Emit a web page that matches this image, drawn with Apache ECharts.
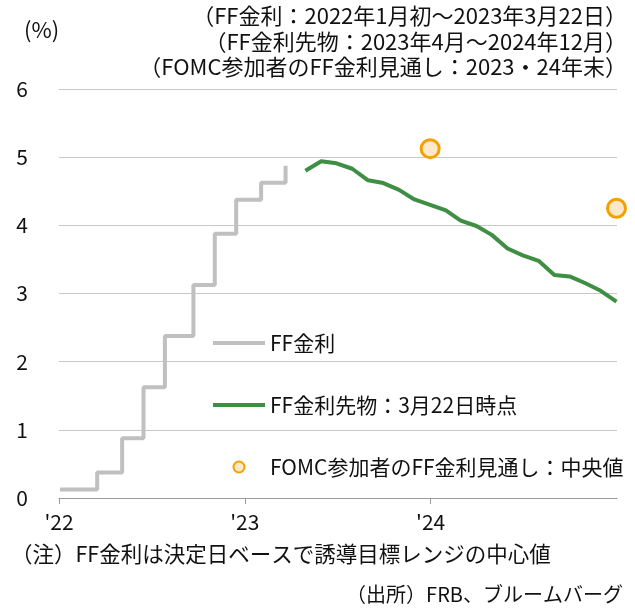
<!DOCTYPE html>
<html>
<head>
<meta charset="utf-8">
<script src="https://cdn.jsdelivr.net/npm/echarts@6/dist/echarts.min.js"></script>
<style>
  html, body { margin: 0; padding: 0; background: #fff; }
  #main { width: 635px; height: 609px; }
</style>
</head>
<body>
<div id="main"></div>
<script>
// FF金利（誘導目標レンジの中心値、決定日ベース）
var ffDates = ['2022-01-03', '2022-03-17', '2022-05-05', '2022-06-16', '2022-07-28', '2022-09-22', '2022-11-03', '2022-12-15', '2023-02-02', '2023-03-22']
var ffRates = [0.125, 0.375, 0.875, 1.625, 2.375, 3.125, 3.875, 4.375, 4.625, 4.875]

// FF金利先物（3月22日時点、2023年4月～2024年12月）
var futDates = ['2023-04-30', '2023-05-31', '2023-06-30', '2023-07-31', '2023-08-31', '2023-09-30', '2023-10-31',
  '2023-11-30', '2023-12-31', '2024-01-31', '2024-02-29', '2024-03-31', '2024-04-30', '2024-05-31', '2024-06-30',
  '2024-07-31', '2024-08-31', '2024-09-30', '2024-10-31', '2024-11-30', '2024-12-31']
var futRates = [4.80, 4.94, 4.91, 4.83, 4.66, 4.62, 4.52, 4.38, 4.30, 4.22, 4.07, 3.99, 3.86, 3.66, 3.56,
  3.48, 3.27, 3.25, 3.15, 3.04, 2.88]

// FOMC参加者の見通し（中央値）
var fomcDates = ['2023-12-31', '2024-12-31']
var fomcRates = [5.125, 4.25]

var yTicks = [0, 1, 2, 3, 4, 5, 6]

var titleLines = ['（FF金利：2022年1月初～2023年3月22日）', '（FF金利先物：2023年4月～2024年12月）', '（FOMC参加者のFF金利見通し：2023・24年末）']

var FONT = '"Noto Sans CJK JP", "Noto Sans", sans-serif'
var LINE_ICON = 'path://M0,0H52V4H0Z'

function pairs (dates, vals) {
  return dates.map(function (d, i) { return [d, vals[i]] })
}

var graphics = [
  { type: 'text', left: 24, top: 19, style: { text: '(%)', fontSize: 22, fontFamily: FONT, fill: '#111' } },
  { type: 'text', left: 11, top: 543, style: { text: '（注）FF金利は決定日ベースで誘導目標レンジの中心値', fontSize: 21.5, fontFamily: FONT, fill: '#111' } },
  { type: 'text', right: 12, top: 584, style: { text: '（出所）FRB、ブルームバーグ', fontSize: 20, fontFamily: FONT, fill: '#111' } }
]
titleLines.forEach(function (t, i) {
  graphics.push({ type: 'text', right: 8, top: 5 + i * 25.5, style: { text: t, fontSize: 22, fontFamily: FONT, fill: '#111' } })
})

var chart = echarts.init(document.getElementById('main'))
var option = {
  animation: false,
  textStyle: { fontFamily: FONT, color: '#111' },
  grid: { left: 59, right: 18, top: 89, bottom: 111 },
  xAxis: {
    type: 'time',
    min: '2022-01-01',
    max: '2025-01-01',
    splitNumber: 3,
    minInterval: 365 * 24 * 3600 * 1000,
    axisLine: { lineStyle: { color: '#9a9a9a', width: 1 } },
    axisTick: { show: true, length: 6, lineStyle: { color: '#9a9a9a' } },
    splitLine: { show: false },
    axisLabel: {
      margin: 14,
      fontSize: 21,
      color: '#111',
      fontFamily: FONT,
      formatter: function (v) {
        var y = new Date(v).getFullYear()
        if (y > 2024) return ''
        return "'" + String(y).slice(2)
      }
    }
  },
  yAxis: {
    type: 'value',
    min: yTicks[0],
    max: yTicks[yTicks.length - 1],
    interval: 1,
    axisLine: { show: false },
    axisTick: { show: false },
    splitLine: { lineStyle: { color: '#c8c8c8', width: 1 } },
    axisLabel: { margin: 31, fontSize: 21, color: '#111', fontFamily: FONT }
  },
  legend: {
    orient: 'vertical',
    left: 213,
    top: 331,
    padding: 0,
    itemWidth: 52,
    itemHeight: 11,
    itemGap: 38,
    textStyle: { fontSize: 21, lineHeight: 24, color: '#111', fontFamily: FONT },
    data: [
      { name: 'FF金利', icon: LINE_ICON, itemStyle: { color: '#c0c0c0' } },
      { name: 'FF金利先物：3月22日時点', icon: LINE_ICON, itemStyle: { color: '#3e8e44' } },
      { name: 'FOMC参加者のFF金利見通し：中央値', icon: 'circle' }
    ]
  },
  graphic: graphics,
  series: [
    {
      name: 'FF金利',
      type: 'line',
      step: 'end',
      showSymbol: false,
      symbol: 'none',
      data: pairs(ffDates, ffRates),
      lineStyle: { color: '#c0c0c0', width: 4 },
      itemStyle: { color: '#c0c0c0' }
    },
    {
      name: 'FF金利先物：3月22日時点',
      type: 'line',
      showSymbol: false,
      symbol: 'none',
      data: pairs(futDates, futRates),
      lineStyle: { color: '#3e8e44', width: 4 },
      itemStyle: { color: '#3e8e44' }
    },
    {
      name: 'FOMC参加者のFF金利見通し：中央値',
      type: 'scatter',
      symbol: 'circle',
      symbolSize: 18,
      data: pairs(fomcDates, fomcRates),
      itemStyle: { color: '#fde9c9', borderColor: '#f5a000', borderWidth: 3, opacity: 1 }
    }
  ]
}
chart.setOption(option)
</script>
</body>
</html>
